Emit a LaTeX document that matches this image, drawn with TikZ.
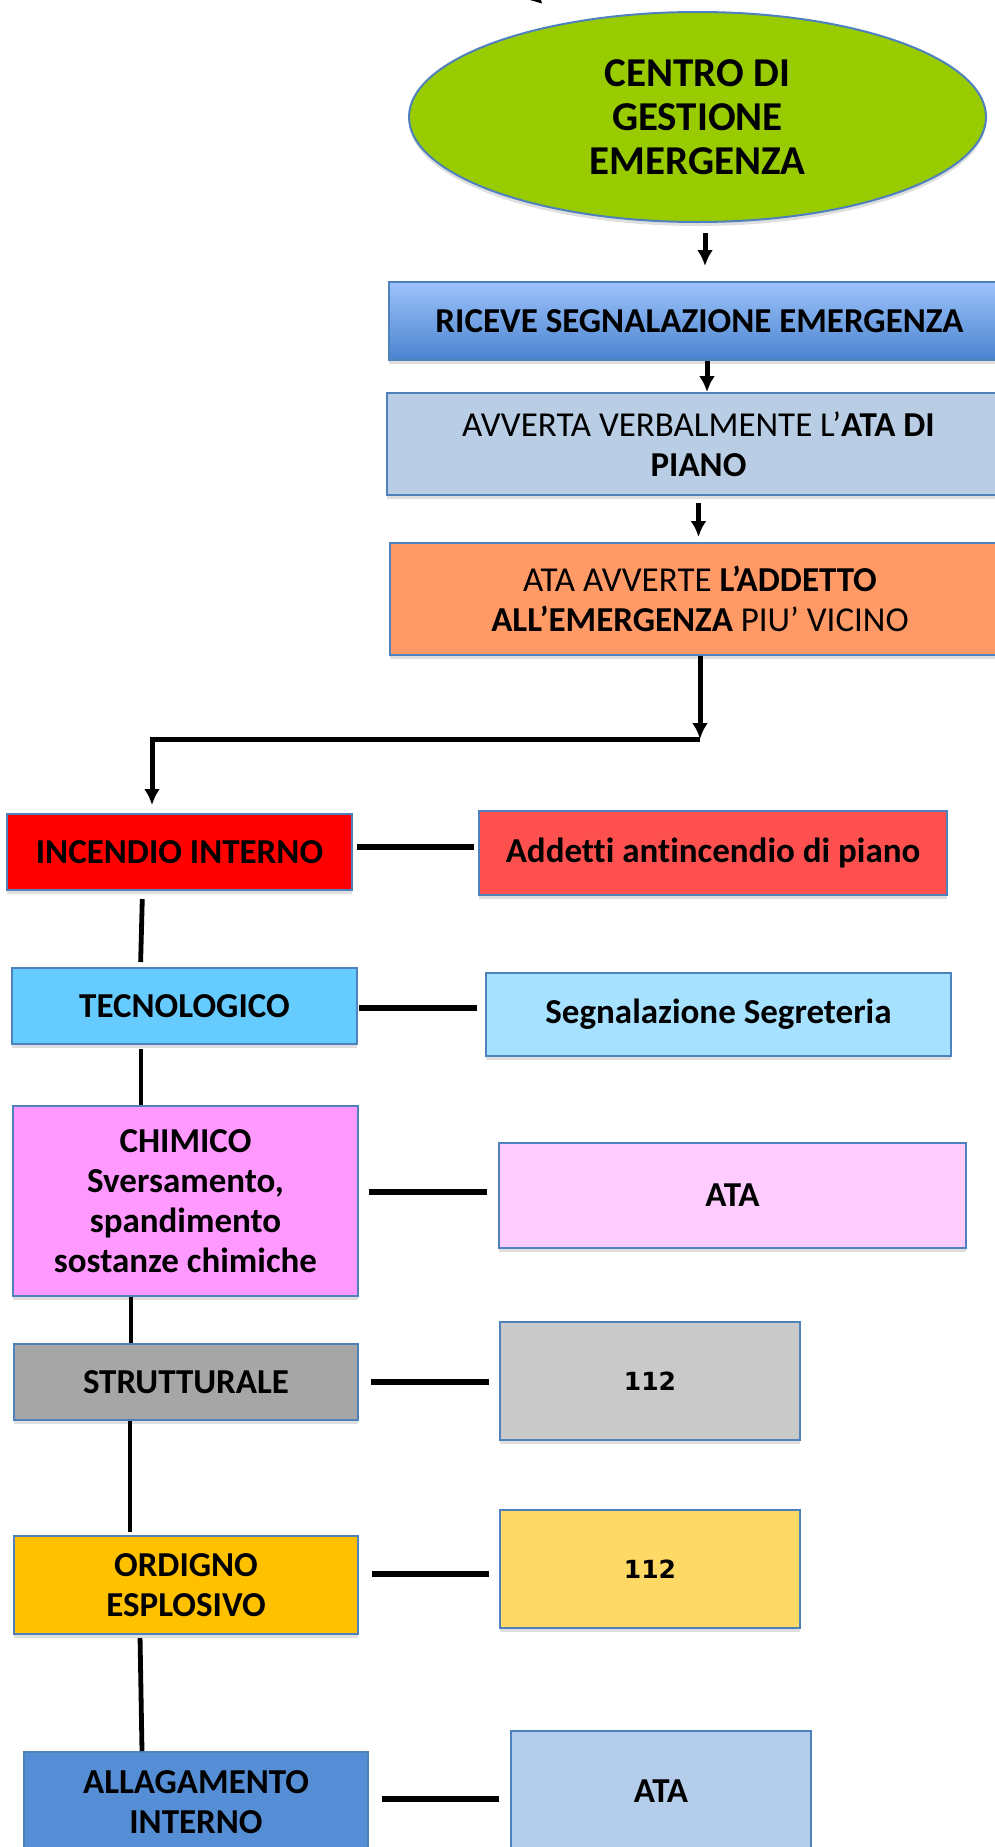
\documentclass[tikz,border=0pt]{standalone}
\usepackage{fontspec}
\setmainfont{Carlito}[Ligatures=NoCommon]
\newfontfamily\numfont{DejaVu Sans}
\usetikzlibrary{shapes.geometric,shadows,arrows.meta,calc}

\definecolor{bordo}{HTML}{4F81BD}
\definecolor{verdeC}{HTML}{99CC00}
\definecolor{ricTop}{HTML}{9DC3FB}
\definecolor{ricBot}{HTML}{4A83CF}
\definecolor{avvBlu}{HTML}{B9CDE5}
\definecolor{arancio}{HTML}{FF9966}
\definecolor{rosso}{HTML}{FF0000}
\definecolor{rossoC}{HTML}{FF5050}
\definecolor{celeste}{HTML}{66CCFF}
\definecolor{celesteC}{HTML}{A6E1FF}
\definecolor{rosa}{HTML}{FF99FF}
\definecolor{rosaC}{HTML}{FFCCFF}
\definecolor{grigio}{HTML}{A6A6A6}
\definecolor{grigioC}{HTML}{C9C9C9}
\definecolor{giallo}{HTML}{FFC000}
\definecolor{gialloC}{HTML}{FFD966}
\definecolor{blu}{HTML}{558ED5}
\definecolor{bluC}{HTML}{B3CDEB}

\tikzset{
  ombra/.style={drop shadow={shadow xshift=0pt, shadow yshift=-2pt, opacity=0.25}},
  box/.style={rectangle, draw=bordo, line width=1pt, inner sep=0pt, align=center, ombra,
              font=\bfseries\fontsize{17.5}{20}\selectfont},
  numero/.style={box, font=\numfont\bfseries\fontsize{12.5}{14}\selectfont},
  freccia/.style={->, >={Latex[length=8pt,width=8pt]}, line width=2.5pt},
  linea/.style={line width=2.4pt},
  trattino/.style={line width=2.8pt}
}

\begin{document}
\begin{tikzpicture}[x=0.5pt, y=-0.5pt]

    \useasboundingbox (0,0) rectangle (995,1847);
    \fill[white] (0,0) rectangle (995,1847);
    \clip (0,0) rectangle (995,1847);

    %punta in alto
    \fill[black] (530,0) -- (541,0) -- (542,3.5) -- cycle;

    %centro
    \node[ellipse, draw=bordo, line width=1pt, fill=verdeC, inner sep=0pt, ombra,
          minimum width=288.5pt, minimum height=105pt, align=center,
          font=\bfseries\fontsize{20.5}{22}\selectfont] (ctr) at (697.5,117)
          {CENTRO DI\\GESTIONE\\EMERGENZA};

    %catena
    \node[box, top color=ricTop, bottom color=ricBot, minimum width=310.5pt, minimum height=39pt]
          (ricevi) at (699.5,321) {RICEVE SEGNALAZIONE EMERGENZA};
    \node[box, fill=avvBlu, minimum width=311.5pt, minimum height=51pt,
          font=\fontsize{17.5}{20}\selectfont] (avverta) at (698.5,444)
          {AVVERTA VERBALMENTE L’\textbf{ATA DI}\\\textbf{PIANO}};
    \node[box, fill=arancio, minimum width=310pt, minimum height=56pt,
          font=\fontsize{17.5}{20}\selectfont] (avverte) at (700,599)
          {ATA AVVERTE \textbf{L’ADDETTO}\\\textbf{ALL’EMERGENZA} PIU’ VICINO};

    %tipi di emergenza
    \node[box, fill=rosso, minimum width=172.5pt, minimum height=38pt] (incendio) at (179.5,852) {INCENDIO INTERNO};
    \node[box, fill=celeste, minimum width=172.5pt, minimum height=38pt] (tecno) at (184.5,1006) {TECNOLOGICO};
    \node[box, fill=rosa, minimum width=172.5pt, minimum height=95pt] (chimico) at (185.5,1201)
          {CHIMICO\\Sversamento,\\spandimento\\sostanze chimiche};
    \node[box, fill=grigio, minimum width=172pt, minimum height=38pt] (strutt) at (186,1382) {STRUTTURALE};
    \node[box, fill=giallo, minimum width=172pt, minimum height=49pt] (ordigno) at (186,1585) {ORDIGNO\\ESPLOSIVO};
    \node[box, fill=blu, minimum width=172pt, minimum height=50pt] (allag) at (196,1802) {ALLAGAMENTO\\INTERNO};

    %risposte
    \node[box, fill=rossoC, minimum width=234pt, minimum height=42pt] (addetti) at (713,853) {Addetti antincendio di piano};
    \node[box, fill=celesteC, minimum width=232.5pt, minimum height=41.5pt] (segn) at (718.5,1014.5) {Segnalazione Segreteria};
    \node[box, fill=rosaC, minimum width=233.5pt, minimum height=52.5pt] (ata1) at (732.5,1195.5) {ATA};
    \node[numero, fill=grigioC, minimum width=150pt, minimum height=59pt] (num1) at (650,1381) {112};
    \node[numero, fill=gialloC, minimum width=150pt, minimum height=59pt] (num2) at (650,1569) {112};
    \node[box, fill=bluC, minimum width=150pt, minimum height=60pt] (ata2) at (661,1791) {ATA};

    %frecce
    \draw[freccia, shorten <=5pt, shorten >=7.5pt] ($(ctr.south)+(7.5,0)$) -- ($(ctr.south |- ricevi.north)+(7.5,0)$);
    \draw[freccia] ($(ricevi.south)+(7.5,0)$) -- ($(ricevi.south |- avverta.north)+(7.5,0)$);
    \draw[freccia, shorten <=3.5pt, shorten >=2.5pt] (avverta.south) -- (avverta.south |- avverte.north);

    \coordinate (angolo) at (700,739);
    \coordinate (gomito) at (152,739);
    \draw[freccia] (avverte.south) -- (angolo);
    \draw[freccia, shorten >=4pt] (angolo) -- (gomito) -- (gomito |- incendio.north);

    %collegamenti verticali
    \draw[linea, shorten <=4pt, shorten >=2.5pt] ($(incendio.south)+(-37,0)$) -- ($(tecno.north)+(-44,0)$);
    \draw[linea, shorten <=2pt] ($(tecno.south)+(-43.5,0)$) -- ($(chimico.north)+(-44.5,0)$);
    \draw[linea] ($(chimico.south)+(-54.5,0)$) -- ($(strutt.north)+(-55,0)$);
    \draw[linea, shorten >=1.5pt] ($(strutt.south)+(-56,0)$) -- ($(ordigno.north)+(-56,0)$);
    \draw[linea, shorten <=1.5pt] ($(ordigno.south)+(-46,0)$) -- ($(allag.north)+(-54,0)$);

    %collegamenti orizzontali
    \draw[trattino, shorten <=2pt, shorten >=2pt] ($(incendio.east)+(0,-5)$) -- ($(incendio.east -| addetti.west)+(0,-5)$);
    \draw[trattino, shorten <=0.5pt, shorten >=4pt] ($(tecno.east)+(0,2)$) -- ($(tecno.east -| segn.west)+(0,2)$);
    \draw[trattino, shorten <=5pt, shorten >=5.5pt] ($(chimico.east)+(0,-9)$) -- ($(chimico.east -| ata1.west)+(0,-9)$);
    \draw[trattino, shorten <=6pt, shorten >=5pt] (strutt.east) -- (strutt.east -| num1.west);
    \draw[trattino, shorten <=6.5pt, shorten >=5pt] ($(ordigno.east)+(0,-11)$) -- ($(ordigno.east -| num2.west)+(0,-11)$);
    \draw[trattino, shorten <=6.5pt, shorten >=5.5pt] ($(allag.east)+(0,-3)$) -- ($(allag.east -| ata2.west)+(0,-3)$);

\end{tikzpicture}
\end{document}
